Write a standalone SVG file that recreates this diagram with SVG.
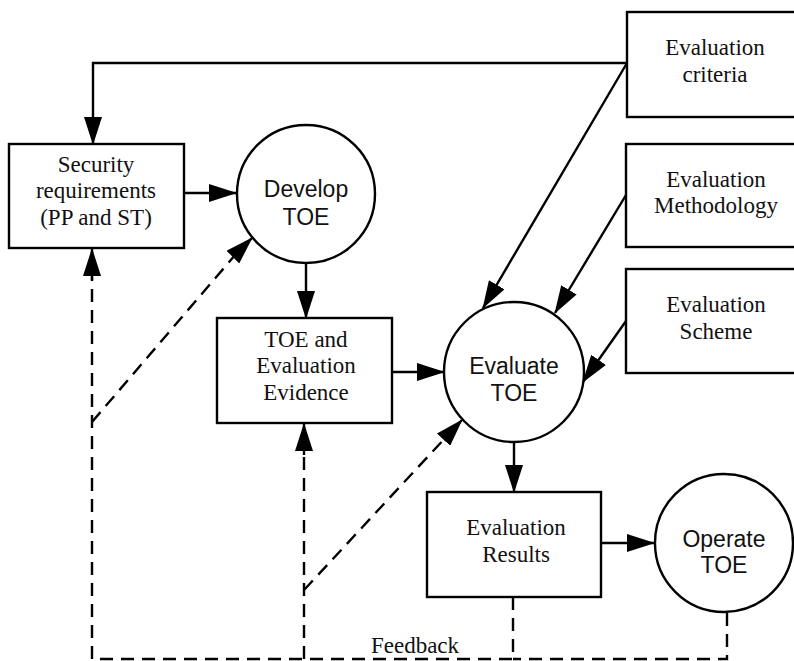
<svg xmlns="http://www.w3.org/2000/svg" width="794" height="661" viewBox="0 0 794 661">
<defs>
<marker id="ah" markerUnits="userSpaceOnUse" markerWidth="28" markerHeight="18" refX="27" refY="9" orient="auto">
<path d="M0,0 L28,9 L0,18 z" fill="#000"/>
</marker>
<style>
.box{fill:#fff;stroke:#000;stroke-width:2.4}
.circ{fill:#fff;stroke:#000;stroke-width:2.4}
.st{font-family:"Liberation Serif","Times New Roman",serif;font-size:23px;text-anchor:middle;fill:#111}
.ss{font-family:"Liberation Sans",Arial,sans-serif;font-size:23px;text-anchor:middle;fill:#111}
.ln{fill:none;stroke:#000;stroke-width:2.4}
.ar{marker-end:url(#ah)}
.dash{stroke-dasharray:13 8}
</style>
</defs>
<rect width="794" height="661" fill="#fff"/>
<g id="connectors">
<path class="ln ar" d="M627,63 H93 V144"/>
<path class="ln ar" d="M184,193 H236"/>
<path class="ln ar" d="M306,263 V318"/>
<path class="ln ar" d="M392,372 H444"/>
<path class="ln ar" d="M514,442 V492"/>
<path class="ln ar" d="M601,543 H654"/>
<path class="ln ar" d="M627,63 L483,308"/>
<path class="ln ar" d="M626,195 L555,313"/>
<path class="ln ar" d="M626,321 L583,382"/>
<path class="ln dash" d="M513,597 V659 H92 V277"/>
<path class="ln dash" d="M727,613 V659 H513"/>
<path class="ln ar" d="M92,280 V249"/>
<path class="ln dash" d="M92,422 L236,254"/>
<path class="ln ar" d="M236,254 L252,238"/>
<path class="ln dash" d="M304,659 V452"/>
<path class="ln ar" d="M304,455 V424"/>
<path class="ln dash" d="M304,590 L447,436"/>
<path class="ln ar" d="M447,436 L462,420"/>
<text class="st" x="415" y="653">Feedback</text>
</g>
<g id="security">
<rect class="box" x="9" y="144" width="175" height="104"/>
<text class="st" x="96" y="172">Security</text>
<text class="st" x="96" y="198">requirements</text>
<text class="st" x="96" y="225">(PP and ST)</text>
</g>
<g id="develop">
<circle class="circ" cx="306" cy="194" r="69"/>
<text class="ss" x="306" y="197">Develop</text>
<text class="ss" x="306" y="225">TOE</text>
</g>
<g id="evidence">
<rect class="box" x="217" y="318" width="175" height="105"/>
<text class="st" x="306" y="347">TOE and</text>
<text class="st" x="306" y="373">Evaluation</text>
<text class="st" x="306" y="400">Evidence</text>
</g>
<g id="evaluate">
<circle class="circ" cx="514" cy="372" r="70"/>
<text class="ss" x="514" y="374">Evaluate</text>
<text class="ss" x="514" y="401">TOE</text>
</g>
<g id="results">
<rect class="box" x="427" y="492" width="174" height="105"/>
<text class="st" x="516" y="535">Evaluation</text>
<text class="st" x="516" y="562">Results</text>
</g>
<g id="operate">
<circle class="circ" cx="724" cy="543" r="69"/>
<text class="ss" x="724" y="547">Operate</text>
<text class="ss" x="724" y="573">TOE</text>
</g>
<g id="criteria">
<rect class="box" x="627" y="12" width="190" height="105"/>
<text class="st" x="715" y="55">Evaluation</text>
<text class="st" x="715" y="82">criteria</text>
</g>
<g id="methodology">
<rect class="box" x="626" y="144" width="190" height="103"/>
<text class="st" x="716" y="187">Evaluation</text>
<text class="st" x="716" y="213">Methodology</text>
</g>
<g id="scheme">
<rect class="box" x="626" y="269" width="190" height="104"/>
<text class="st" x="716" y="312">Evaluation</text>
<text class="st" x="716" y="339">Scheme</text>
</g>
</svg>
